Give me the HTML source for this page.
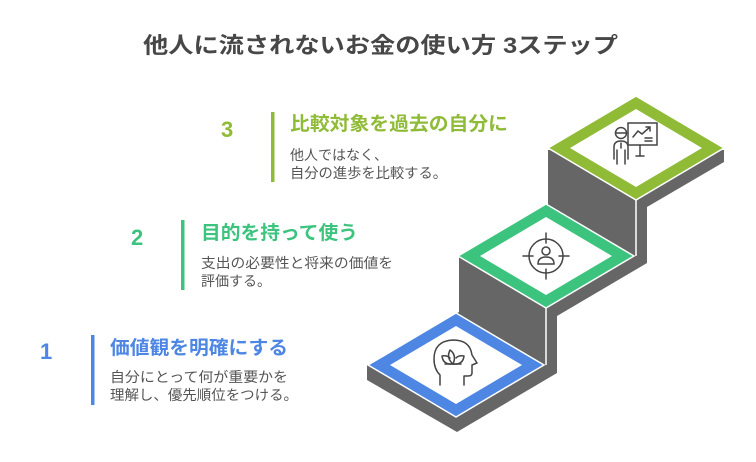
<!DOCTYPE html>
<html><head><meta charset="utf-8"><style>
html,body{margin:0;padding:0;background:#fff;}
svg{display:block;font-family:"Liberation Sans","Noto Sans CJK JP",sans-serif;}
</style></head><body>
<svg width="756" height="462" viewBox="0 0 756 462" xmlns="http://www.w3.org/2000/svg">
<text x="143" y="53" font-size="22" font-weight="bold" fill="#474747" textLength="475" lengthAdjust="spacingAndGlyphs">他人に流されないお金の使い方 3ステップ</text>

<polygon points="548,150 724,150 724,162 647,207 647,263 557,316 557,373 457,432 367,380 367,365 459,312 459,257 548,205" fill="#666666"/>
<line x1="636" y1="200" x2="636" y2="256" stroke="#fff" stroke-width="1.5"/>
<line x1="546" y1="308" x2="546" y2="365" stroke="#fff" stroke-width="1.5"/>

<g stroke="#fff" stroke-width="1.5">
<polygon points="636,96 724,148 636,200 548,148" fill="#8fbb37"/>
<polygon points="546,204 634,256 546,308 458,256" fill="#3cc47f"/>
<polygon points="456,313 544,365 456,417 368,365" fill="#4d86e3"/>
</g>
<polygon points="636,109 702,148 636,187 570,148" fill="#fff"/>
<polygon points="546,217 612,256 546,295 480,256" fill="#fff"/>
<polygon points="456,326 522,365 456,404 390,365" fill="#fff"/>

<g fill="none" stroke="#444" stroke-width="1.5" stroke-linecap="round">
<circle cx="621" cy="133" r="5.5"/>
<line x1="615.5" y1="133" x2="626.5" y2="133"/>
<path d="M614,159 V147 Q614,141 621,141 Q628,141 628,147 V159"/>
<line x1="621" y1="143" x2="621" y2="148"/>
<path d="M617,150 V164 M625,150 V164"/>
<rect x="628" y="123" width="29" height="22"/>
<path d="M640,145 V156 M636,156 H644"/>
<path d="M633,137 L638,131 L642,134 L650,127 M646,127 H650 V131"/>
<path d="M645,138 H652 M645,141 H652"/>
</g>

<g fill="none" stroke="#444" stroke-width="1.5" stroke-linecap="round">
<circle cx="546" cy="256" r="17"/>
<path d="M546,233 V243 M546,269 V279 M523,256 H533 M559,256 H569"/>
<circle cx="546" cy="251" r="4"/>
<path d="M538,264 Q538,257 546,257 Q554,257 554,264 Z"/>
</g>

<g fill="none" stroke="#444" stroke-width="1.5" stroke-linecap="round" stroke-linejoin="round">
<path d="M440,385 V375 Q434,369 434,359 Q434,341 453,340 Q470,340 472,355 L477,363 L472,365 V373 Q472,376 468,376 H464 V385"/>
<path d="M453,364 Q446,358 450,350 Q457,355 453,364 Z"/>
<path d="M453,364 Q443,365 442,356 Q447,355 450,358"/>
<path d="M453,364 Q463,365 464,356 Q459,355 456,358"/>
<path d="M445,364 H461"/>
</g>

<text x="221" y="137" font-size="22" font-weight="bold" fill="#8fbb37">3</text>
<rect x="271" y="112" width="3.5" height="70" fill="#8fbb37"/>
<text x="290" y="130" font-size="19" font-weight="bold" fill="#8fbb37" textLength="218" lengthAdjust="spacingAndGlyphs">比較対象を過去の自分に</text>
<text x="290" y="160" font-size="14" fill="#555">他人ではなく、</text>
<text x="290" y="178" font-size="14" fill="#555" textLength="157" lengthAdjust="spacingAndGlyphs">自分の進歩を比較する。</text>

<text x="131" y="245" font-size="22" font-weight="bold" fill="#3cc47f">2</text>
<rect x="181" y="220" width="3.5" height="70" fill="#3cc47f"/>
<text x="201" y="239" font-size="19" font-weight="bold" fill="#3cc47f" textLength="157" lengthAdjust="spacingAndGlyphs">目的を持って使う</text>
<text x="201" y="268" font-size="14" fill="#555" textLength="192" lengthAdjust="spacingAndGlyphs">支出の必要性と将来の価値を</text>
<text x="201" y="286" font-size="14" fill="#555">評価する。</text>

<text x="40" y="359" font-size="22" font-weight="bold" fill="#4d86e3">1</text>
<rect x="91" y="335" width="3.5" height="70" fill="#4d86e3"/>
<text x="110" y="354" font-size="19" font-weight="bold" fill="#4d86e3" textLength="178" lengthAdjust="spacingAndGlyphs">価値観を明確にする</text>
<text x="110" y="382" font-size="14" fill="#555" textLength="178" lengthAdjust="spacingAndGlyphs">自分にとって何が重要かを</text>
<text x="110" y="400" font-size="14" fill="#555" textLength="188" lengthAdjust="spacingAndGlyphs">理解し、優先順位をつける。</text>
</svg>
</body></html>
